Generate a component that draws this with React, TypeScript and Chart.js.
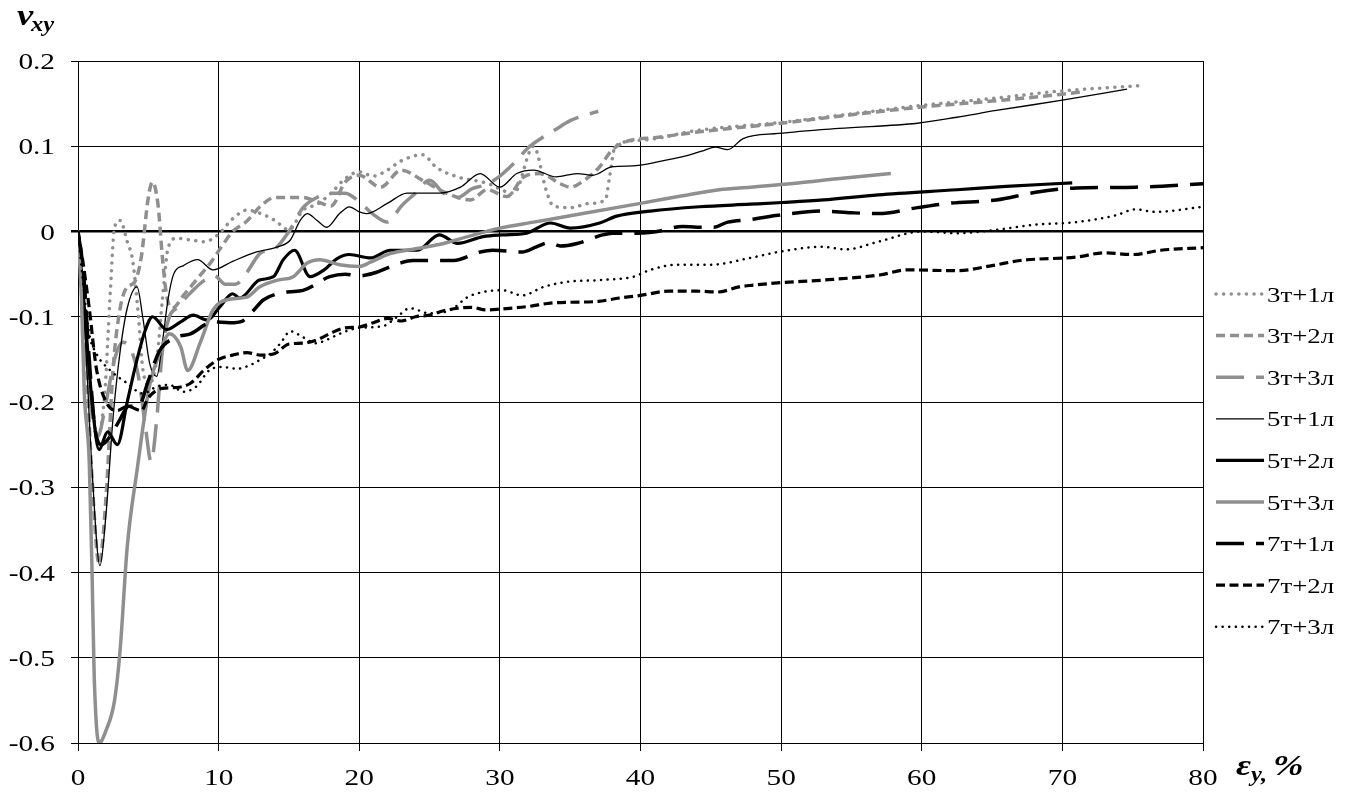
import React, { useEffect, useRef } from 'react';
import { Chart, registerables } from 'chart.js';

Chart.register(...registerables);

// ---------- data ----------
const X_TICKS = [0, 10, 20, 30, 40, 50, 60, 70, 80];
const Y_TICKS = [0.2, 0.1, 0, -0.1, -0.2, -0.3, -0.4, -0.5, -0.6];

const SERIES_LABELS = ['3т+1л', '3т+2л', '3т+3л', '5т+1л', '5т+2л', '5т+3л', '7т+1л', '7т+2л', '7т+3л'];

const S_3T_1L: [number, number][] = [
  [0, 0], [0.5, -0.1], [1.0, -0.2], [1.4, -0.24], [1.9, -0.19], [2.3, -0.07], [2.6, 0.005], [3.0, 0.013],
  [3.5, -0.012], [3.9, -0.035], [4.3, -0.1], [4.6, -0.16], [5.0, -0.18], [5.6, -0.15], [6.0, -0.08],
  [6.4, -0.02], [7.0, -0.008], [8.0, -0.01], [9.0, -0.012], [10.0, -0.003], [11.0, 0.015], [12.0, 0.025],
  [13.0, 0.021], [14.0, 0.013], [15.0, 0.002], [16.0, 0.025], [17.0, 0.032], [18.0, 0.045], [19.0, 0.062],
  [20.0, 0.07], [21.0, 0.065], [22.0, 0.072], [23.0, 0.083], [24.5, 0.09], [25.5, 0.075], [27.0, 0.064],
  [29.0, 0.057], [31.0, 0.045], [32.4, 0.1], [33.3, 0.048], [33.8, 0.03], [35.0, 0.028], [36.4, 0.033],
  [37.5, 0.037], [37.8, 0.064], [38.2, 0.1], [40, 0.107], [44.2, 0.119], [50, 0.128], [55, 0.138],
  [60, 0.148], [65, 0.156], [70, 0.165], [75.5, 0.171],
];

const S_3T_2L: [number, number][] = [
  [0, 0], [0.5, -0.12], [1.0, -0.29], [1.5, -0.39], [2.0, -0.31], [2.5, -0.16], [3.0, -0.09], [3.5, -0.065],
  [4.0, -0.06], [4.5, -0.03], [5.0, 0.04], [5.3, 0.058], [5.7, 0.03], [6.0, -0.03], [6.3, -0.075],
  [6.7, -0.09], [7.5, -0.075], [8.5, -0.055], [9.5, -0.035], [10.2, -0.018], [11, 0.0], [12, 0.012],
  [13, 0.03], [14, 0.04], [15, 0.04], [16, 0.04], [17, 0.035], [18, 0.03], [19, 0.058], [20, 0.066],
  [21.5, 0.052], [23, 0.072], [24.5, 0.06], [26.2, 0.045], [27.9, 0.037], [29.1, 0.049], [30.5, 0.041],
  [31.7, 0.064], [32.9, 0.068], [34.3, 0.056], [35, 0.052], [36, 0.06], [37.1, 0.076], [38, 0.096],
  [39.3, 0.107], [41, 0.11], [44.2, 0.117], [50, 0.127], [55, 0.137], [60, 0.146], [65, 0.153],
  [70, 0.161], [71.5, 0.164],
];

const S_3T_3L: [number, number][] = [
  [0, 0], [0.4, -0.1], [0.9, -0.2], [1.4, -0.24], [2.0, -0.2], [2.6, -0.15], [3.2, -0.13], [3.8, -0.14],
  [4.3, -0.17], [4.8, -0.23], [5.2, -0.27], [5.6, -0.22], [6.0, -0.14], [6.5, -0.1], [7.0, -0.09],
  [8, -0.072], [9, -0.057], [9.7, -0.052], [10.5, -0.062], [11.2, -0.062], [12, -0.048], [13, -0.025],
  [14, -0.02], [15, 0.0], [16, 0.028], [17, 0.04], [18, 0.045], [19, 0.045], [20, 0.035], [21, 0.02],
  [22, 0.011], [23, 0.03], [24, 0.045], [25, 0.06], [26, 0.045], [27, 0.04], [28, 0.05], [29, 0.055],
  [30, 0.065], [31, 0.08], [32, 0.098], [33, 0.11], [34, 0.12], [35, 0.13], [36, 0.136], [37, 0.141],
];

const S_5T_1L: [number, number][] = [
  [0, 0], [0.5, -0.12], [1.0, -0.28], [1.56, -0.392], [2.0, -0.33], [2.5, -0.217], [3.0, -0.14],
  [3.5, -0.09], [4.2, -0.065], [4.6, -0.1], [5.1, -0.155], [5.6, -0.17], [6.0, -0.13], [6.4, -0.08],
  [6.8, -0.05], [7.5, -0.04], [8.5, -0.033], [9.6, -0.045], [11, -0.035], [12.7, -0.024], [14.2, -0.018],
  [15.1, -0.01], [15.8, 0.013], [16.3, 0.021], [17, 0.013], [17.7, 0.005], [18.6, 0.021], [19.3, 0.029],
  [20, 0.023], [20.5, 0.021], [22, 0.033], [23.4, 0.045], [25.7, 0.045], [27.2, 0.052], [28.6, 0.068],
  [30, 0.052], [31.2, 0.068], [32.4, 0.072], [34, 0.064], [35.5, 0.068], [36.6, 0.066], [38, 0.076],
  [39.5, 0.077], [41.9, 0.084], [43.5, 0.09], [44.5, 0.095], [45.3, 0.099], [46.2, 0.096], [47.3, 0.109],
  [49.8, 0.115], [54.1, 0.121], [59.7, 0.127], [62.5, 0.134], [65.3, 0.142], [70, 0.154], [74.6, 0.167],
];

const S_5T_2L: [number, number][] = [
  [0, 0], [0.5, -0.1], [1.0, -0.2], [1.5, -0.256], [2.1, -0.235], [2.8, -0.25], [3.5, -0.2],
  [4.2, -0.15], [4.8, -0.115], [5.3, -0.1], [6.3, -0.115], [7.3, -0.106], [8.2, -0.098], [9.2, -0.104],
  [10.1, -0.088], [11, -0.073], [11.5, -0.078], [12.9, -0.057], [13.9, -0.053], [14.6, -0.033],
  [15.4, -0.022], [16.5, -0.053], [17.5, -0.045], [18.4, -0.032], [19.3, -0.027], [20.8, -0.031],
  [22.2, -0.022], [24.1, -0.022], [25.7, -0.004], [27, -0.014], [28.8, -0.006], [30.2, -0.004],
  [31.9, -0.002], [33.6, 0.01], [35, 0.004], [37.1, 0.01], [38.3, 0.018], [40.7, 0.024], [44.2, 0.029],
  [47.8, 0.032], [50.1, 0.034], [53, 0.037], [56.9, 0.043], [62.5, 0.049], [66, 0.053], [70.7, 0.057],
];

const S_5T_3L: [number, number][] = [
  [0, 0], [0.25, -0.08], [0.45, -0.19], [0.8, -0.27], [1.0, -0.4], [1.15, -0.52], [1.5, -0.6],
  [2.0, -0.585], [2.6, -0.55], [3.0, -0.49], [3.5, -0.37], [4.2, -0.28], [5.1, -0.18], [5.8, -0.143],
  [6.5, -0.12], [7.3, -0.135], [7.8, -0.163], [8.7, -0.13], [9.6, -0.092], [10.6, -0.08], [12, -0.077],
  [12.9, -0.065], [14.2, -0.057], [15.3, -0.053], [16.3, -0.037], [17.2, -0.033], [18.6, -0.039],
  [20, -0.041], [20.8, -0.036], [22.2, -0.026], [24.1, -0.02], [26, -0.014], [27.7, -0.006], [30, 0.004],
  [32.4, 0.011], [35.9, 0.021], [40, 0.033], [43, 0.042], [45.6, 0.049], [47.8, 0.052], [51.2, 0.057],
  [54, 0.062], [57.8, 0.068],
];

const S_7T_1L: [number, number][] = [
  [0, 0], [0.4, -0.05], [0.8, -0.15], [1.2, -0.23], [1.7, -0.25], [2.3, -0.24], [3.0, -0.22],
  [3.6, -0.205], [4.3, -0.205], [5.0, -0.175], [5.8, -0.14], [7.0, -0.124], [8.0, -0.12], [9.6, -0.106],
  [10.8, -0.107], [11.7, -0.105], [12.4, -0.094], [13.2, -0.08], [14.9, -0.071], [16, -0.069],
  [17.9, -0.053], [19, -0.05], [20, -0.052], [21, -0.049], [22.9, -0.037], [23.8, -0.034], [25.7, -0.034],
  [26.7, -0.034], [28.6, -0.024], [29.5, -0.022], [31.6, -0.024], [32.6, -0.018], [33.5, -0.013],
  [34.3, -0.017], [35.5, -0.014], [37.3, -0.004], [38, -0.002], [39.8, -0.002], [41.2, 0.0], [43, 0.006],
  [44, 0.005], [45.2, 0.005], [46.2, 0.011], [47.8, 0.014], [49.8, 0.019], [52.9, 0.024], [55, 0.022],
  [56.9, 0.021], [59.7, 0.028], [61.9, 0.033], [65.3, 0.037], [68.1, 0.046], [71, 0.051], [75.2, 0.052],
  [80, 0.056],
];

const S_7T_2L: [number, number][] = [
  [0, 0], [0.3, -0.03], [0.8, -0.09], [1.3, -0.16], [2.0, -0.2], [2.8, -0.21], [3.5, -0.205],
  [4.5, -0.21], [5.0, -0.195], [6, -0.184], [7, -0.183], [8, -0.178], [9, -0.162], [10, -0.15],
  [11, -0.145], [12, -0.142], [13, -0.145], [14, -0.143], [15, -0.132], [16, -0.131], [17, -0.127],
  [18, -0.119], [19, -0.113], [20, -0.112], [21, -0.107], [22, -0.102], [23, -0.105], [24, -0.1],
  [25, -0.098], [26, -0.093], [27, -0.09], [28, -0.089], [29, -0.092], [30, -0.091], [32, -0.088],
  [33.6, -0.084], [35, -0.083], [37, -0.082], [38.5, -0.078], [40, -0.075], [42, -0.07], [44, -0.07],
  [45.5, -0.071], [47, -0.065], [48, -0.063], [50, -0.06], [53, -0.057], [57, -0.051], [59, -0.045],
  [62.5, -0.046], [65, -0.04], [67, -0.034], [71, -0.03], [73, -0.025], [75, -0.027], [77, -0.022],
  [80, -0.019],
];

const S_7T_3L: [number, number][] = [
  [0, 0], [0.3, -0.05], [0.8, -0.12], [1.3, -0.143], [2.3, -0.163], [3.5, -0.178], [4.6, -0.19],
  [5.6, -0.182], [6.5, -0.18], [7.5, -0.188], [8.4, -0.182], [9.4, -0.162], [10.3, -0.159],
  [11.3, -0.161], [12.2, -0.157], [13, -0.15], [13.7, -0.143], [14.4, -0.131], [15.1, -0.117],
  [16, -0.124], [16.9, -0.131], [17.7, -0.127], [18.6, -0.12], [20, -0.113], [21.7, -0.111],
  [22.7, -0.1], [23.6, -0.09], [25, -0.096], [26.5, -0.092], [27.7, -0.077], [28.8, -0.071],
  [30.2, -0.069], [31.6, -0.075], [33.1, -0.065], [34.8, -0.059], [37.1, -0.057], [39.5, -0.053],
  [40.7, -0.045], [42.6, -0.039], [45, -0.039], [47.8, -0.031], [49.8, -0.024], [52.9, -0.018],
  [54.6, -0.021], [56.9, -0.012], [60, 0.0], [62.5, -0.002], [65.3, 0.002], [68.1, 0.008], [71, 0.011],
  [73.8, 0.019], [75.2, 0.026], [76.6, 0.023], [80, 0.029],
];

const SERIES_DATA = [S_3T_1L, S_3T_2L, S_3T_3L, S_5T_1L, S_5T_2L, S_5T_3L, S_7T_1L, S_7T_2L, S_7T_3L];

// ---------- styles ----------
const GRAY = '#8f8f8f';
const BLACK = '#000000';
const STYLES: { color: string; width: number; dash: number[]; cap: CanvasLineCap }[] = [
  { color: GRAY, width: 3.5, dash: [0.1, 7.5], cap: 'round' },
  { color: GRAY, width: 3.5, dash: [9, 5], cap: 'butt' },
  { color: GRAY, width: 3.5, dash: [28, 12], cap: 'butt' },
  { color: BLACK, width: 1.3, dash: [], cap: 'butt' },
  { color: BLACK, width: 3.2, dash: [], cap: 'butt' },
  { color: GRAY, width: 3.5, dash: [], cap: 'butt' },
  { color: BLACK, width: 3.5, dash: [28, 12], cap: 'butt' },
  { color: BLACK, width: 3.2, dash: [9, 4.5], cap: 'butt' },
  { color: BLACK, width: 2.5, dash: [0.1, 6.5], cap: 'round' },
];

const FONT = '"Liberation Serif", "Times New Roman", serif';
const STRETCH = 1.22;
const W = 1360;
const H = 793;
const PLOT_LEFT = 78;
const PLOT_RIGHT = 1203;
const PLOT_TOP = 61;
const PLOT_BOTTOM = 743;
const LEGEND_X = 1216;
const LEGEND_LINE = 48;
const LEGEND_TOP = 294;
const LEGEND_STEP = 41.6;

function drawText(
  ctx: CanvasRenderingContext2D,
  text: string,
  x: number,
  y: number,
  font: string,
  align: CanvasTextAlign,
) {
  ctx.save();
  ctx.translate(x, y);
  ctx.scale(STRETCH, 1);
  ctx.font = font;
  ctx.textAlign = align;
  ctx.textBaseline = 'alphabetic';
  ctx.fillStyle = '#000';
  ctx.fillText(text, 0, 0);
  ctx.restore();
}

const isZero = (v: number) => Math.abs(v) < 1e-9;

const decorPlugin = {
  id: 'decor',
  afterDraw(chart: any) {
    const ctx: CanvasRenderingContext2D = chart.ctx;
    const xs = chart.scales.x;
    const ys = chart.scales.y;
    const tickFont = `24px ${FONT}`;
    // tick labels
    Y_TICKS.forEach((v) => {
      const py = ys.getPixelForValue(v);
      drawText(ctx, isZero(v) ? '0' : v.toFixed(1), 55, py + 8, tickFont, 'right');
    });
    X_TICKS.forEach((v) => {
      const px = xs.getPixelForValue(v);
      drawText(ctx, String(v), px, 785, tickFont, 'center');
    });
    // legend
    SERIES_LABELS.forEach((label, i) => {
      const st = STYLES[i];
      const y = LEGEND_TOP + i * LEGEND_STEP;
      ctx.save();
      ctx.beginPath();
      ctx.strokeStyle = st.color;
      ctx.lineWidth = st.width;
      ctx.lineCap = st.cap;
      ctx.setLineDash(st.dash);
      ctx.moveTo(LEGEND_X, y);
      ctx.lineTo(LEGEND_X + LEGEND_LINE, y);
      ctx.stroke();
      ctx.restore();
      drawText(ctx, label, LEGEND_X + LEGEND_LINE + 3, y + 7.5, `22px ${FONT}`, 'left');
    });
    // axis titles
    drawText(ctx, 'ν', 17, 25, `italic bold 30px ${FONT}`, 'left');
    drawText(ctx, 'xy', 31, 31, `italic bold 20px ${FONT}`, 'left');
    drawText(ctx, 'ε', 1236, 775, `italic bold 30px ${FONT}`, 'left');
    drawText(ctx, 'y,', 1251, 781, `italic bold 20px ${FONT}`, 'left');
    drawText(ctx, '%', 1273, 775, `italic bold 30px ${FONT}`, 'left');
  },
};

export default function App() {
  const ref = useRef<HTMLCanvasElement | null>(null);
  useEffect(() => {
    if (!ref.current) return;
    const datasets = SERIES_DATA.map((arr, i) => ({
      label: SERIES_LABELS[i],
      data: arr.map(([x, y]) => ({ x, y })),
      borderColor: STYLES[i].color,
      backgroundColor: STYLES[i].color,
      borderWidth: STYLES[i].width,
      borderDash: STYLES[i].dash,
      borderCapStyle: STYLES[i].cap,
      borderJoinStyle: 'round' as const,
      pointRadius: 0,
      pointHoverRadius: 0,
      fill: false,
      cubicInterpolationMode: 'monotone' as const,
      order: SERIES_DATA.length - i,
    }));
    const chart = new Chart(ref.current, {
      type: 'line',
      data: { datasets },
      plugins: [decorPlugin],
      options: {
        animation: false,
        responsive: false,
        events: [],
        layout: {
          padding: { left: 0, right: W - PLOT_RIGHT, top: PLOT_TOP, bottom: 0 },
        },
        plugins: {
          legend: { display: false },
          tooltip: { enabled: false },
          title: { display: false },
        },
        scales: {
          x: {
            type: 'linear',
            min: 0,
            max: 80,
            afterBuildTicks: (s: any) => {
              s.ticks = X_TICKS.map((v) => ({ value: v }));
            },
            afterFit: (s: any) => {
              s.height = H - PLOT_BOTTOM;
            },
            ticks: { display: false },
            grid: {
              color: '#000',
              lineWidth: 1,
              drawTicks: true,
              tickLength: 8,
              tickColor: '#000',
            },
            border: { display: true, color: '#000', width: 1 },
          },
          y: {
            type: 'linear',
            min: -0.6,
            max: 0.2,
            afterBuildTicks: (s: any) => {
              s.ticks = Y_TICKS.map((v) => ({ value: v }));
            },
            afterFit: (s: any) => {
              s.width = PLOT_LEFT;
            },
            ticks: { display: false },
            grid: {
              color: '#000',
              lineWidth: (c: any) => (c.tick && isZero(c.tick.value) ? 2.5 : 1),
              drawTicks: true,
              tickLength: 7,
              tickColor: '#000',
            },
            border: { display: true, color: '#000', width: 1 },
          },
        },
      },
    } as any);
    return () => chart.destroy();
  }, []);
  return (
    <div style={{ position: 'absolute', left: 0, top: 0, width: W, height: H, background: '#fff' }}>
      <canvas ref={ref} width={W} height={H} style={{ display: 'block', width: W, height: H }} />
    </div>
  );
}
